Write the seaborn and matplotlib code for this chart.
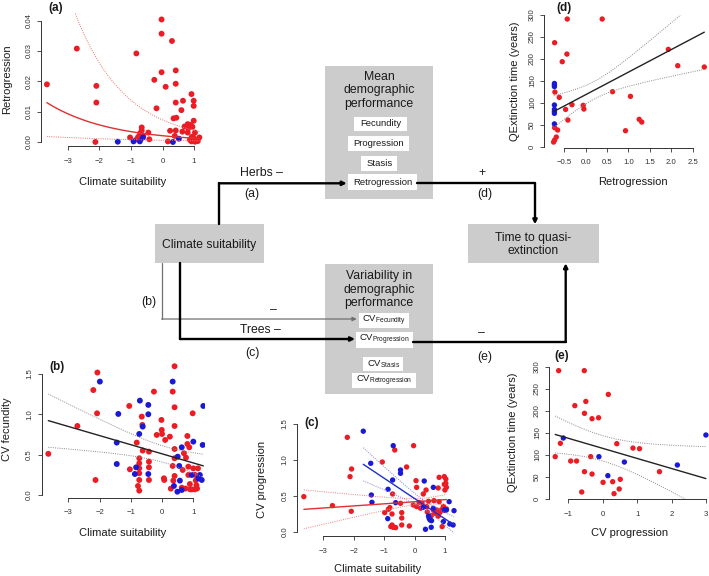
import numpy as np
import pandas as pd
import matplotlib
matplotlib.use("Agg")
import matplotlib.pyplot as plt
from matplotlib.patches import Rectangle
import seaborn as sns

# ---------------- data ----------------
# (a) retrogression vs climate suitability
a_herb_x = [-3.67, -2.72, -2.10, -2.10, -2.13, -0.83, -0.03, -0.03, -0.03, -0.26,
            -0.19, 0.10, 0.30, 0.42, 0.42, 0.42, 0.35, 0.44, 0.60, 0.65,
            0.92, 0.99, 0.99, 0.99, 0.70, 0.80, 0.895, 0.95, 0.82, 1.03, 0.80,
            0.24, 0.42, 0.17, 0.39, 0.63, 0.93, 0.87, 0.97, 1.09, 1.17, 1.03,
            0.98, 1.12, 0.92, -0.66, -0.66, -0.71, -0.77, -0.82, -0.69, -0.61,
            -0.68, -1.03, -0.45, -0.42]
a_herb_y = [0.0190, 0.0308, 0.0185, 0.0130, 0.0000, 0.0292, 0.0404, 0.0357, 0.0230, 0.0205,
            0.0111, 0.0182, 0.0333, 0.0236, 0.0192, 0.0130, 0.0078, 0.0080, 0.0105, 0.0136,
            0.0158, 0.0136, 0.0119, 0.0070, 0.0051, 0.0059, 0.0056, 0.0050, 0.0045, 0.0031, 0.0031,
            0.0037, 0.0038, 0.0002, 0.0020, 0.0034, 0.0017, 0.0007, 0.0007, 0.0007, 0.0015, 0.0001,
            0.0015, 0.0003, 0.0002, 0.0048, 0.0038, 0.0029, 0.0017, 0.0009, 0.0009, 0.0020,
            0.0022, 0.0015, 0.0031, 0.0009]
a_tree_x = [-1.42, -0.92, -0.72, -0.62, 0.33, 0.52]
a_tree_y = [0.0001, 0.0002, 0.0002, 0.0015, 0.0000, 0.0011]
# log-link fit and CI (intercept, slope)
a_fit = [-6.18, -0.50]
a_upper = [-4.92, -0.635]
a_lower = [-7.45, -0.31]

# (b) CV fecundity vs climate suitability
b_herb_x = [-3.64, -2.71, -2.20, -2.07, -2.08, -2.13, -1.05, -1.03, -0.81, -0.73,
            -0.73, -0.73, -0.73, -0.73, -0.77, -0.73, -0.65, -0.63, -0.62, -0.42,
            -0.42, -0.42, -0.42, -0.26, -0.17, -0.02, -0.01, 0.00, 0.06, 0.07,
            0.10, 0.25, 0.28, 0.34, 0.34, 0.40, 0.40, 0.40, 0.40, 0.40,
            0.40, 0.36, 0.63, 0.66, 0.70, 0.765, 0.81, 0.81, 0.87, 0.84,
            0.84, 0.89, 0.95, 0.98, 1.00, 1.05, 1.10, 1.12, 1.15, 1.05,
            0.90, 0.75, 1.08]
b_herb_y = [0.51, 0.855, 1.30, 1.517, 1.012, 0.186, 1.103, 0.318, 0.649, 0.455,
            0.393, 0.331, 0.269, 0.186, 0.112, 0.054, 0.971, 0.868, 0.55, 0.537,
            0.413, 0.343, 0.186, 1.281, 0.744, 0.93, 0.806, 0.756, 0.207, 0.186,
            0.682, 0.723, 0.079, 1.281, 0.36, 1.595, 1.087, 0.855, 0.57, 0.455,
            0.236, 0.178, 0.091, 0.31, 0.517, 0.463, 0.632, 0.731, 0.591, 0.351,
            0.248, 0.136, 0.07, 1.012, 0.33, 0.25, 0.12, 0.08, 0.33, 0.07,
            0.07, 0.08, 0.18]
b_tree_x = [-1.99, -1.40, -1.45, -1.45, -0.87, -0.83, -0.71, -0.73, -0.62, -0.44,
            -0.44, -0.44, 0.34, 0.38, 0.49, 0.50, 0.57, 0.55, 0.63, 0.63,
            1.00, 0.95, 1.21, 1.27, 1.32, 1.30, 1.16]
b_tree_y = [1.405, 1.004, 0.649, 0.384, 0.26, 0.343, 1.169, 0.756, 0.847, 1.116,
            1.0, 0.26, 1.405, 0.112, 0.041, 0.475, 0.178, 0.36, 0.591, 0.062,
            0.661, 0.248, 0.248, 0.186, 1.103, 0.62, 0.207]
b_fit = [0.51, -0.113]
b_ci = [0.101, 0.084, 0.1]  # half-width: sqrt(a^2 + (s*(x-m))^2)

# (c) CV progression vs climate suitability
c_herb_x = [-3.64, -2.70, -2.21, -2.07, -2.12, -2.08, -1.06, -0.98, -0.65, -0.72,
            -0.74, -0.81, -0.86, -0.74, -0.70, -0.66, -0.62, -0.78, -0.42, -0.42,
            -0.42, -0.46, -0.26, -0.17, -0.03, 0.05, 0.07, -0.04, 0.07, 0.29,
            0.38, 0.40, 0.42, 0.46, 0.51, 0.64, 0.81, 0.78, 0.81, 0.95,
            0.98, 1.03, 0.98, 1.03, 1.00, 1.05, 0.91, 0.84, 0.73, 0.62,
            0.56, 0.67, 0.78, 0.89, 1.00, 1.05, 0.20, 0.15, 0.25]
c_herb_y = [0.491, 0.366, 1.315, 0.875, 0.769, 0.287, 0.972, 0.269, 1.139, 0.528,
            0.25, 0.338, 0.315, 0.097, 0.065, 0.065, 0.06, 0.075, 0.269, 0.194,
            0.097, 0.398, 0.903, 0.083, 1.199, 0.713, 0.62, 0.375, 0.352, 0.528,
            0.583, 0.352, 0.278, 0.426, 0.204, 0.435, 0.759, 0.611, 0.421, 0.356,
            0.769, 0.736, 0.662, 0.676, 0.583, 0.62, 0.074, 0.273, 0.306, 0.306,
            0.23, 0.26, 0.22, 0.31, 0.30, 0.32, 0.33, 0.41, 0.40]
c_tree_x = [-1.685, -1.44, -1.42, -1.40, -0.70, -0.72, -0.88, -0.87, -0.62, -0.46,
            -0.46, 0.32, 0.36, 0.55, 0.46, 0.48, 0.56, 0.51, 0.62, 0.62,
            0.95, 0.98, 1.05, 1.14, 1.16, 1.27, 1.30, 0.29]
c_tree_y = [1.40, 0.954, 0.514, 0.412, 1.199, 0.722, 0.185, 0.593, 0.407, 0.861,
            0.815, 0.708, 0.037, 0.065, 0.222, 0.19, 0.157, 0.167, 0.329, 0.62,
            0.144, 0.306, 0.306, 0.421, 0.111, 0.097, 0.296, 0.343]
c_herb_fit = [0.42, 0.029]
c_herb_ci = [0.04, 0.0695, 0.2]
c_tree_fit = [0.465, -0.282]
c_tree_ci = [0.06, 0.1066, 0.4]

# (d) quasi-extinction time vs retrogression
d_herb_x = [-0.43, 0.386, -0.725, -0.438, -0.547, 1.93, 2.15, 2.77, 0.627, 1.046,
            -0.718, -0.617, -0.32, -0.057, -0.042, -0.469, -0.415, 1.25, 1.31, 0.93,
            -0.725, -0.655, -0.686, -0.725, -0.749]
d_herb_y = [290.8, 290.8, 236.9, 211, 193.6, 221.7, 184.5, 181.5, 125.3, 114.7,
            124.5, 112.4, 95.7, 94.2, 85.8, 85.0, 60.7, 62.3, 56.2, 36.4,
            43.3, 38.0, 22.0, 15.2, 10.6]
d_tree_x = [-0.73, -0.73, -0.73, -0.73, -0.73, -0.73, -0.73, -0.73]
d_tree_y = [144, 140, 137, 95, 85, 80, 76, 52]
d_fit = [118.5, 51.4]
d_ci = [20, 32, 0.2]

# (e) quasi-extinction time vs CV progression
e_herb_x = [-1.38, -1.23, -0.93, -0.76, -0.81, -0.49, -0.53, -0.31, -0.12, -0.53,
            -0.31, -0.35, -0.61, 0.01, 0.29, 0.33, 0.51, 0.48, 0.41, 0.88,
            1.07, 1.65, -1.28, -0.535, 0.163]
e_herb_y = [95.5, 125.8, 85.6, 85.6, 211.4, 221, 194, 181.8, 184, 61.4,
            56, 95.5, 15.2, 37.1, 38.6, 11.4, 44, 22, 125, 115,
            113.6, 61.4, 291, 291, 237]
e_tree_x = [-1.145, -0.11, 0.63, 0.15, 2.17, 3.0]
e_tree_y = [137.9, 95.5, 83.3, 52.3, 76.5, 144.7]
e_fit = [114.4, -22.9]
e_ci = [28.8, 22.2, 0.0]

# ---------------- style ----------------
sns.set_style("ticks")
plt.rcParams["font.family"] = ["Liberation Sans", "DejaVu Sans"]
plt.rcParams["mathtext.fontset"] = "custom"
plt.rcParams["mathtext.rm"] = "Liberation Sans"
plt.rcParams["mathtext.it"] = "Liberation Sans:italic"

HERB = "#ec1c24"
TREE = "#1a1ad6"
PAL = {"Herb": HERB, "Tree": TREE}
GREY_BOX = "#cccccc"
DOT = (0, (1, 1.3))

W, H = 709, 576
fig = plt.figure(figsize=(W / 100, H / 100), dpi=100)

# diagram layer in pixel coordinates
dg = fig.add_axes([0, 0, 1, 1], zorder=0)
dg.set_xlim(0, W)
dg.set_ylim(H, 0)
dg.axis("off")


def add_panel(box, xlim, ylim):
    left, top, right, bottom = box
    ax = fig.add_axes([left / W, 1 - bottom / H, (right - left) / W, (bottom - top) / H], zorder=2)
    ax.set_facecolor("none")
    ax.set_xlim(*xlim)
    ax.set_ylim(*ylim)
    return ax


def scatter(ax, hx, hy, tx, ty, s=18):
    df = pd.DataFrame({"x": hx + tx, "y": hy + ty,
                       "form": ["Herb"] * len(hx) + ["Tree"] * len(tx)})
    sns.scatterplot(data=df, x="x", y="y", hue="form", palette=PAL, s=s,
                    edgecolor="none", linewidth=0, legend=False, ax=ax, zorder=3)


def linear_fit(ax, xs, fit, ci, color, ci_color):
    grid = np.linspace(min(xs), max(xs), 80)
    yhat = fit[0] + fit[1] * grid
    half = np.sqrt(ci[0] ** 2 + (ci[1] * (grid - ci[2])) ** 2)
    sns.lineplot(x=grid, y=yhat, ax=ax, color=color, lw=1.0, zorder=4)
    sns.lineplot(x=grid, y=yhat + half, ax=ax, color=ci_color, lw=0.7, linestyle=DOT, zorder=4)
    sns.lineplot(x=grid, y=yhat - half, ax=ax, color=ci_color, lw=0.7, linestyle=DOT, zorder=4)


def finish(ax, xticks, xlabels, yticks, ylabels, xlim, ylim):
    ax.set_xlim(*xlim)
    ax.set_ylim(*ylim)
    ax.set_xlabel("")
    ax.set_ylabel("")
    for s in ["top", "right"]:
        ax.spines[s].set_visible(False)
    for s in ["left", "bottom"]:
        ax.spines[s].set_linewidth(0.7)
        ax.spines[s].set_color("#333333")
    ax.spines["bottom"].set_bounds(xticks[0], xticks[-1])
    ax.spines["left"].set_bounds(yticks[0], yticks[-1])
    ax.set_xticks(xticks, xlabels)
    ax.set_yticks(yticks, ylabels)
    ax.tick_params(axis="both", labelsize=5.6, length=3, width=0.6, color="#333333",
                   labelcolor="#333333")
    ax.tick_params(axis="x", pad=5.5)
    ax.tick_params(axis="y", pad=3)
    plt.setp(ax.get_yticklabels(), rotation=90, va="center")


def label(x, y, s, size=8, rot=0, weight="normal", **kw):
    dg.text(x, y, s, ha="center", va="center", fontsize=size, rotation=rot,
            fontweight=weight, color="#1a1a1a", **kw)


# ---------------- panel (a) ----------------
xl, yl = (-3.857, 1.349), (-0.00132, 0.04253)
ax = add_panel((41, 13, 205, 146), xl, yl)
scatter(ax, a_herb_x, a_herb_y, a_tree_x, a_tree_y)
grid = np.linspace(min(a_herb_x), max(a_herb_x), 80)
sns.lineplot(x=grid, y=np.exp(a_fit[0] + a_fit[1] * grid), ax=ax, color="#e03030", lw=1.0, zorder=4)
sns.lineplot(x=grid, y=np.exp(a_upper[0] + a_upper[1] * grid), ax=ax, color="#f07070", lw=0.7, linestyle=DOT, zorder=4)
sns.lineplot(x=grid, y=np.exp(a_lower[0] + a_lower[1] * grid), ax=ax, color="#f07070", lw=0.7, linestyle=DOT, zorder=4)
finish(ax, [-3, -2, -1, 0, 1], ["\u22123", "\u22122", "\u22121", "0", "1"],
       [0, 0.01, 0.02, 0.03, 0.04], ["0.00", "0.01", "0.02", "0.03", "0.04"], xl, yl)
label(7, 79.5, "Retrogression", rot=90)
label(123, 182, "Climate suitability")
label(56, 7.5, "(a)", size=8.5, weight="bold")

# ---------------- panel (b) ----------------
xl, yl = (-3.858, 1.374), (-0.031, 1.660)
ax = add_panel((41.5, 361, 205, 497.5), xl, yl)
scatter(ax, b_herb_x, b_herb_y, b_tree_x, b_tree_y)
linear_fit(ax, b_herb_x + b_tree_x, b_fit, b_ci, "#222222", "#8a8a8a")
finish(ax, [-3, -2, -1, 0, 1], ["\u22123", "\u22122", "\u22121", "0", "1"],
       [0, 0.5, 1.0, 1.5], ["0.0", "0.5", "1.0", "1.5"], xl, yl)
label(7, 429, "CV fecundity", rot=90)
label(123, 533, "Climate suitability")
label(57, 367, "(b)", size=8.5, weight="bold")

# ---------------- panel (c) ----------------
xl, yl = (-3.875, 1.490), (-0.056, 1.528)
ax = add_panel((296.7, 422, 459.8, 536), xl, yl)
scatter(ax, c_herb_x, c_herb_y, c_tree_x, c_tree_y, s=15)
linear_fit(ax, c_herb_x, c_herb_fit, c_herb_ci, "#e03030", "#f08080")
linear_fit(ax, c_tree_x, c_tree_fit, c_tree_ci, "#2030c8", "#8080e8")
finish(ax, [-3, -2, -1, 0, 1], ["\u22123", "\u22122", "\u22121", "0", "1"],
       [0, 0.5, 1.0, 1.5], ["0.0", "0.5", "1.0", "1.5"], xl, yl)
label(262, 479, "CV progression", rot=90)
label(378, 569, "Climate suitability")
label(312, 423, "(c)", size=8.5, weight="bold")

# ---------------- panel (d) ----------------
xl, yl = (-0.966, 2.95), (-1.8, 300.9)
ax = add_panel((544.3, 14.6, 712, 147.5), xl, yl)
scatter(ax, d_herb_x, d_herb_y, d_tree_x, d_tree_y, s=15)
linear_fit(ax, d_herb_x + d_tree_x, d_fit, d_ci, "#222222", "#8a8a8a")
finish(ax, [-0.5, 0, 0.5, 1.0, 1.5, 2.0, 2.5],
       ["\u22120.5", "0.0", "0.5", "1.0", "1.5", "2.0", "2.5"],
       [0, 50, 100, 150, 200, 250, 300], ["0", "50", "100", "150", "200", "250", "300"], xl, yl)
label(515, 81, "QExtinction time (years)", rot=90)
label(633, 181.7, "Retrogression")
label(564, 7.5, "(d)", size=8.5, weight="bold")

# ---------------- panel (e) ----------------
xl, yl = (-1.552, 3.177), (-1.4, 301.1)
ax = add_panel((549.3, 366.2, 712, 499.3), xl, yl)
scatter(ax, e_herb_x, e_herb_y, e_tree_x, e_tree_y, s=15)
linear_fit(ax, e_herb_x + e_tree_x, e_fit, e_ci, "#222222", "#8a8a8a")
finish(ax, [-1, 0, 1, 2, 3], ["\u22121", "0", "1", "2", "3"],
       [0, 50, 100, 150, 200, 250, 300], ["0", "50", "100", "150", "200", "250", "300"], xl, yl)
label(513.3, 432.7, "QExtinction time (years)", rot=90)
label(630, 533.3, "CV progression")
label(562, 356, "(e)", size=8.5, weight="bold")

# ---------------- path diagram ----------------
def box(x0, y0, x1, y1, color):
    dg.add_patch(Rectangle((x0, y0), x1 - x0, y1 - y0, facecolor=color, edgecolor="none", zorder=1))


def path(xs, ys, lw, color):
    dg.plot(xs[:-1], ys[:-1], color=color, lw=lw, solid_joinstyle="miter", zorder=2)
    dg.annotate("", xy=(xs[-1], ys[-1]), xytext=(xs[-2], ys[-2]),
                arrowprops=dict(arrowstyle="-|>", color=color, lw=lw, shrinkA=0, shrinkB=0,
                                mutation_scale=6), zorder=2)


box(325, 65.7, 433.3, 199.3, GREY_BOX)
label(379, 90.5, "Mean\ndemographic\nperformance", size=8.8, linespacing=1.2)
for (x0, y0, x1, y1, txt) in [(354, 116.7, 406.7, 131, "Fecundity"),
                              (348, 136, 408.7, 151, "Progression"),
                              (361.3, 155.7, 397.3, 170.7, "Stasis"),
                              (348, 174.3, 417.3, 190, "Retrogression")]:
    box(x0, y0, x1, y1, "white")
    label((x0 + x1) / 2, (y0 + y1) / 2, txt, size=6.8)

box(325, 264.3, 433.3, 394, GREY_BOX)
label(379, 289.5, "Variability in\ndemographic\nperformance", size=8.8, linespacing=1.15)
for (x0, y0, x1, y1, txt) in [(358.7, 313.3, 409.3, 328.3, r"CV$_{\mathrm{Fecundity}}$"),
                              (356, 332.3, 412.7, 348.3, r"CV$_{\mathrm{Progression}}$"),
                              (363.3, 356.5, 403.3, 371, r"CV$_{\mathrm{Stasis}}$"),
                              (352.3, 373, 416, 388, r"CV$_{\mathrm{Retrogression}}$")]:
    box(x0, y0, x1, y1, "white")
    label((x0 + x1) / 2, (y0 + y1) / 2, txt, size=6.8)

box(155, 224.3, 264, 263.3, GREY_BOX)
label(209.5, 245, "Climate suitability", size=8.7)
box(468.3, 224.3, 598.7, 263.3, GREY_BOX)
label(533.5, 244.5, "Time to quasi-\nextinction", size=8.7, linespacing=1.1)

path([219, 219, 346.7], [224.3, 183.3, 183.3], 1.7, "black")
path([417.3, 535, 535], [183.3, 183.3, 224.3], 1.7, "black")
path([161.7, 161.7, 356.7], [263.3, 319, 319], 0.9, "#707070")
path([180, 180, 355], [263.3, 339, 339], 1.7, "black")
path([412.7, 565.7, 565.7], [341.7, 341.7, 263.3], 1.7, "black")

label(261.7, 172.7, "Herbs \u2013", size=8.8)
label(252.3, 194.3, "(a)", size=8.8)
label(481.7, 172.7, "+", size=8.8)
label(485, 194.3, "(d)", size=8.8)
label(149.3, 301.7, "(b)", size=8.8)
label(273.3, 310, "\u2013", size=8.8)
label(260, 330, "Trees \u2013", size=8.8)
label(252.3, 353.3, "(c)", size=8.8)
label(481.7, 333.3, "\u2013", size=8.8)
label(485, 356.7, "(e)", size=8.8)

fig.savefig("out.png", dpi=100)
